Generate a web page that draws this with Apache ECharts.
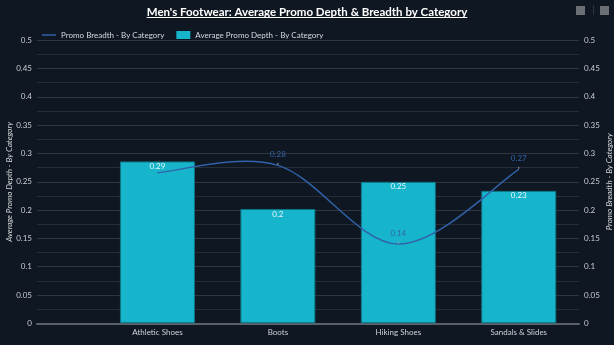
<!DOCTYPE html>
<html>
<head>
<meta charset="utf-8">
<script src="https://cdn.jsdelivr.net/npm/echarts@6/dist/echarts.min.js"></script>
<style>
  html, body { margin: 0; padding: 0; background: #0f1722; }
  #chart { width: 614px; height: 345px; }
</style>
</head>
<body>
<div id="chart"></div>
<script>
// Categories and the two measures per category
const categories = ['Athletic Shoes', 'Boots', 'Hiking Shoes', 'Sandals & Slides'];
const promoDepth = [0.286, 0.202, 0.250, 0.234];
const promoBreadth = [0.266, 0.279, 0.140, 0.272];
const yTicks = [0, 0.05, 0.1, 0.15, 0.2, 0.25, 0.3, 0.35, 0.4, 0.45, 0.5];

const titleText = "Men's Footwear: Average Promo Depth & Breadth by Category";
const depthName = 'Average Promo Depth - By Category';
const breadthName = 'Promo Breadth - By Category';

const LINE_COLOR = '#3062aa';
const FONT = 'Lato, "Noto Sans", sans-serif';
const fmt = v => String(+(+v).toFixed(2));

// width of the title, used to place its underline
const titleFont = 'bold 11.5px Lato';
const mctx = document.createElement('canvas').getContext('2d');
mctx.font = titleFont;
const titleW = mctx.measureText(titleText).width;

const chart = echarts.init(document.getElementById('chart'), null, { renderer: 'canvas' });

const yAxisBase = {
  type: 'value',
  min: yTicks[0],
  max: yTicks[yTicks.length - 1],
  interval: 0.05,
  axisLine: { show: false },
  axisTick: { show: false },
  nameLocation: 'middle',
  nameMoveOverlap: false,
  nameTextStyle: { color: '#d6d9dd', fontSize: 8, fontStyle: 'italic', fontFamily: FONT },
  axisLabel: { color: '#c9cdd2', fontSize: 8, fontFamily: FONT, formatter: v => fmt(v) }
};

// Catmull-Rom segment between point i and i+1 of the breadth series
function renderBreadthSegment(params, api) {
  const i = params.dataIndex;
  const n = promoBreadth.length;
  if (i >= n - 1) return null;
  const P = promoBreadth.map((v, k) => api.coord([k, v]));
  const p0 = P[Math.max(i - 1, 0)];
  const p1 = P[i];
  const p2 = P[i + 1];
  const p3 = P[Math.min(i + 2, n - 1)];
  return {
    type: 'bezierCurve',
    shape: {
      x1: p1[0], y1: p1[1],
      cpx1: p1[0] + (p2[0] - p0[0]) / 6, cpy1: p1[1] + (p2[1] - p0[1]) / 6,
      cpx2: p2[0] - (p3[0] - p1[0]) / 6, cpy2: p2[1] - (p3[1] - p1[1]) / 6,
      x2: p2[0], y2: p2[1]
    },
    style: { stroke: LINE_COLOR, lineWidth: 1.5, fill: null }
  };
}

// breadth points; the first label sits under the bar label and is left out
const breadthPoints = promoBreadth.map((v, i) =>
  i === 0 ? { value: [i, v], label: { show: false } } : { value: [i, v] });

chart.setOption({
  backgroundColor: '#0f1722',
  animation: false,
  title: {
    text: titleText,
    left: 'center',
    top: 1,
    textStyle: { color: '#ffffff', fontSize: 11.5, fontWeight: 'bold', fontFamily: FONT }
  },
  legend: {
    left: 37,
    top: 26,
    itemWidth: 14,
    itemHeight: 8,
    itemGap: 12,
    itemStyle: { borderWidth: 0 },
    textStyle: { color: '#d6d9dd', fontSize: 8, fontFamily: FONT },
    data: [
      { name: breadthName, icon: 'path://M0,0 L14,0 L14,1.5 L0,1.5 Z', itemStyle: { color: LINE_COLOR } },
      { name: depthName, icon: 'rect' }
    ]
  },
  grid: { left: 37, right: 35, top: 40.3, bottom: 21.7, outerBoundsMode: 'none', containLabel: false },
  xAxis: {
    type: 'value',
    min: -1,
    max: 3.5,
    interval: 1,
    splitLine: { show: false },
    axisTick: { show: false },
    axisLine: { show: true, onZero: false, lineStyle: { color: '#5b6169', width: 2 } },
    axisLabel: {
      color: '#d0d3d7', fontSize: 8, fontFamily: FONT, margin: 5,
      showMaxLabel: false,
      formatter: v => (Number.isInteger(v) && v >= 0 && v < categories.length) ? categories[v] : ''
    }
  },
  yAxis: [
    Object.assign({}, yAxisBase, {
      position: 'left',
      name: depthName,
      nameGap: 24,
      nameRotate: 90,
      splitLine: { show: true, lineStyle: { color: '#2f363f', width: 1 } },
      minorTick: { show: false, splitNumber: 2 },
      minorSplitLine: { show: true, lineStyle: { color: '#262d37', width: 1 } },
      axisLabel: Object.assign({}, yAxisBase.axisLabel, { margin: 5 })
    }),
    Object.assign({}, yAxisBase, {
      position: 'right',
      name: breadthName,
      nameGap: 26,
      nameRotate: 90,
      splitLine: { show: false },
      axisLabel: Object.assign({}, yAxisBase.axisLabel, { margin: 5, align: 'left' })
    })
  ],
  series: [
    {
      name: depthName,
      type: 'bar',
      yAxisIndex: 0,
      barWidth: 75,
      z: 2,
      itemStyle: { color: '#16b5cb', borderColor: '#0f7484', borderWidth: 1 },
      label: {
        show: true, position: 'insideTop', distance: 1,
        color: '#eaf6f8', fontSize: 8, fontFamily: FONT,
        formatter: p => fmt(p.value[1])
      },
      data: promoDepth.map((v, i) => [i, v])
    },
    {
      // the breadth curve itself
      name: 'breadthCurve',
      type: 'custom',
      yAxisIndex: 1,
      z: 3,
      silent: true,
      encode: { x: 0, y: 1 },
      renderItem: renderBreadthSegment,
      data: promoBreadth.map((v, i) => [i, v])
    },
    {
      // breadth points: value labels and legend entry
      name: breadthName,
      type: 'line',
      yAxisIndex: 1,
      showSymbol: true,
      symbol: 'circle',
      symbolSize: 1,
      z: 4,
      lineStyle: { color: LINE_COLOR, width: 0 },
      itemStyle: { color: 'rgba(0,0,0,0)' },
      label: {
        show: true, position: 'top', distance: 6,
        color: '#3362a8', fontSize: 8, fontFamily: FONT,
        formatter: p => fmt(p.value[1])
      },
      labelLine: { show: true, lineStyle: { color: '#9aa0a8', width: 1 } },
      data: breadthPoints
    }
  ],
  graphic: [
    // title underline
    { type: 'rect', left: 307 - titleW / 2, top: 17, shape: { width: titleW, height: 1 }, style: { fill: '#ffffff' } },
    // toolbox buttons
    { type: 'rect', left: 576, top: 6, shape: { width: 9, height: 9 }, style: { fill: '#6b6e73' } },
    { type: 'rect', left: 593, top: 5, shape: { width: 1, height: 10 }, style: { fill: '#2c3541' } },
    { type: 'rect', left: 600, top: 6, shape: { width: 9, height: 9 }, style: { fill: '#6b6e73' } }
  ]
});
</script>
</body>
</html>
